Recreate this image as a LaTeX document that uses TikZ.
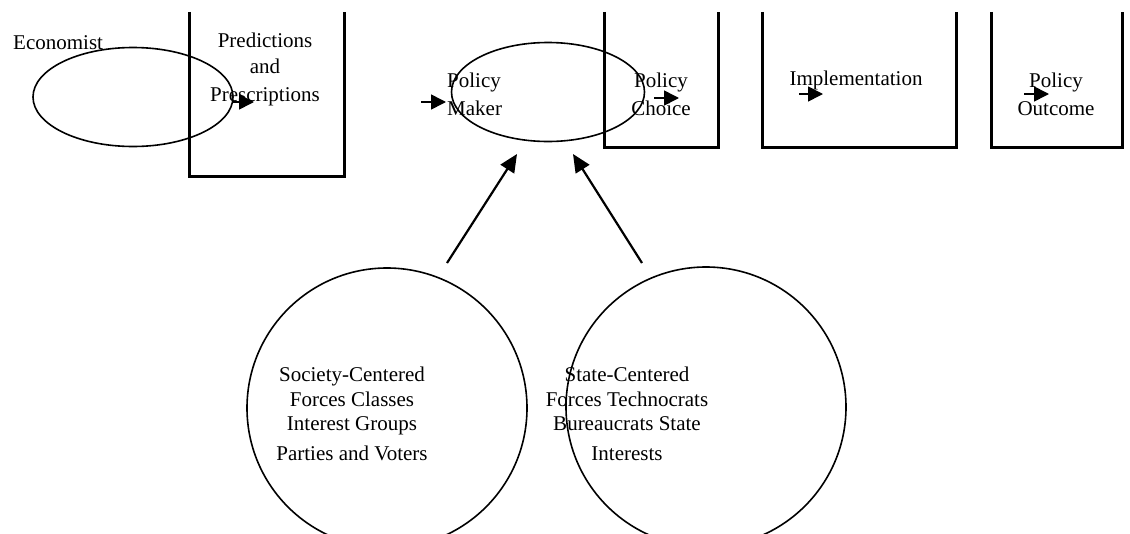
\documentclass[tikz,border=0pt]{standalone}
\usepackage{fontspec}
\setmainfont{Liberation Serif}
\usetikzlibrary{arrows.meta,shapes.geometric}
\begin{document}
\begin{tikzpicture}[x=1pt,y=-1pt,
  lbl/.style={inner sep=0pt,font=\fontsize{21}{26}\selectfont},
  oval/.style={draw,ellipse,line width=1.6pt,inner sep=0pt},
  boxframe/.style={inner sep=0pt},
  boxline/.style={line width=3.2pt},
  smallarrow/.style={line width=1.6pt,-{Triangle[length=15pt,width=15pt]}},
  bigarrow/.style={line width=2.2pt,-{Triangle[length=18pt,width=16pt]}}
]
\useasboundingbox (0,0) rectangle (1130,533);
\clip (0,0) rectangle (1130,533);
% ovals
\node[oval,minimum width=200pt,minimum height=99pt] (econ) at (133,97) {};
\node[oval,minimum width=193pt,minimum height=99pt] (pm) at (548,92) {};
\node[oval,circle,minimum size=280pt] (soc) at (387,408) {};
\node[oval,circle,minimum size=280pt] (state) at (706,407) {};
% open boxes
\node[boxframe,minimum width=154pt,minimum height=164pt] (bpp) at (267,94) {};
\node[boxframe,minimum width=113pt,minimum height=135pt] (bpc) at (661.5,79.5) {};
\node[boxframe,minimum width=193pt,minimum height=135pt] (bim) at (859.5,79.5) {};
\node[boxframe,minimum width=130pt,minimum height=135pt] (bpo) at (1057,79.5) {};
\foreach \b in {bpp,bpc,bim,bpo}
  \draw[boxline] (\b.north west) -- (\b.south west) -- (\b.south east) -- (\b.north east);
% labels
\node[lbl,anchor=west] (teco) at (13,43) {Economist};
\node[lbl,align=center] (tpp) at (265,69) {Predictions\\and\\[2pt]Prescriptions};
\node[lbl,align=left,anchor=west] (tpm) at (447,94) {Policy\\[2pt]Maker};
\node[lbl,align=center] (tpc) at (661,94) {Policy\\[2pt]Choice};
\node[lbl] (tim) at (856,80) {Implementation};
\node[lbl,align=center] (tpo) at (1056,94) {Policy\\[2pt]Outcome};
\node[lbl,align=center,font=\fontsize{21}{24.5}\selectfont] (tsoc) at (352,414) {Society-Centered\\Forces Classes\\Interest Groups\\[5pt]Parties and Voters};
\node[lbl,align=center,font=\fontsize{21}{24.5}\selectfont] (tstate) at (627,414) {State-Centered\\Forces Technocrats\\Bureaucrats State\\[5pt]Interests};
% small arrows
\coordinate (a1s) at (233,102); \coordinate (a1e) at (254,102);
\coordinate (a2s) at (421,102); \coordinate (a2e) at (446,102);
\coordinate (a3s) at (654,98);  \coordinate (a3e) at (679,98);
\coordinate (a4s) at (799,94);  \coordinate (a4e) at (823,94);
\coordinate (a5s) at (1024,94); \coordinate (a5e) at (1049,94);
\draw[smallarrow] (a1s) -- (a1e);
\draw[smallarrow] (a2s) -- (a2e);
\draw[smallarrow] (a3s) -- (a3e);
\draw[smallarrow] (a4s) -- (a4e);
\draw[smallarrow] (a5s) -- (a5e);
% big arrows
\coordinate (b1s) at (447,263); \coordinate (b1e) at (517,154);
\coordinate (b2s) at (642,263); \coordinate (b2e) at (573,154);
\draw[bigarrow] (b1s) -- (b1e);
\draw[bigarrow] (b2s) -- (b2e);
\end{tikzpicture}
\end{document}
